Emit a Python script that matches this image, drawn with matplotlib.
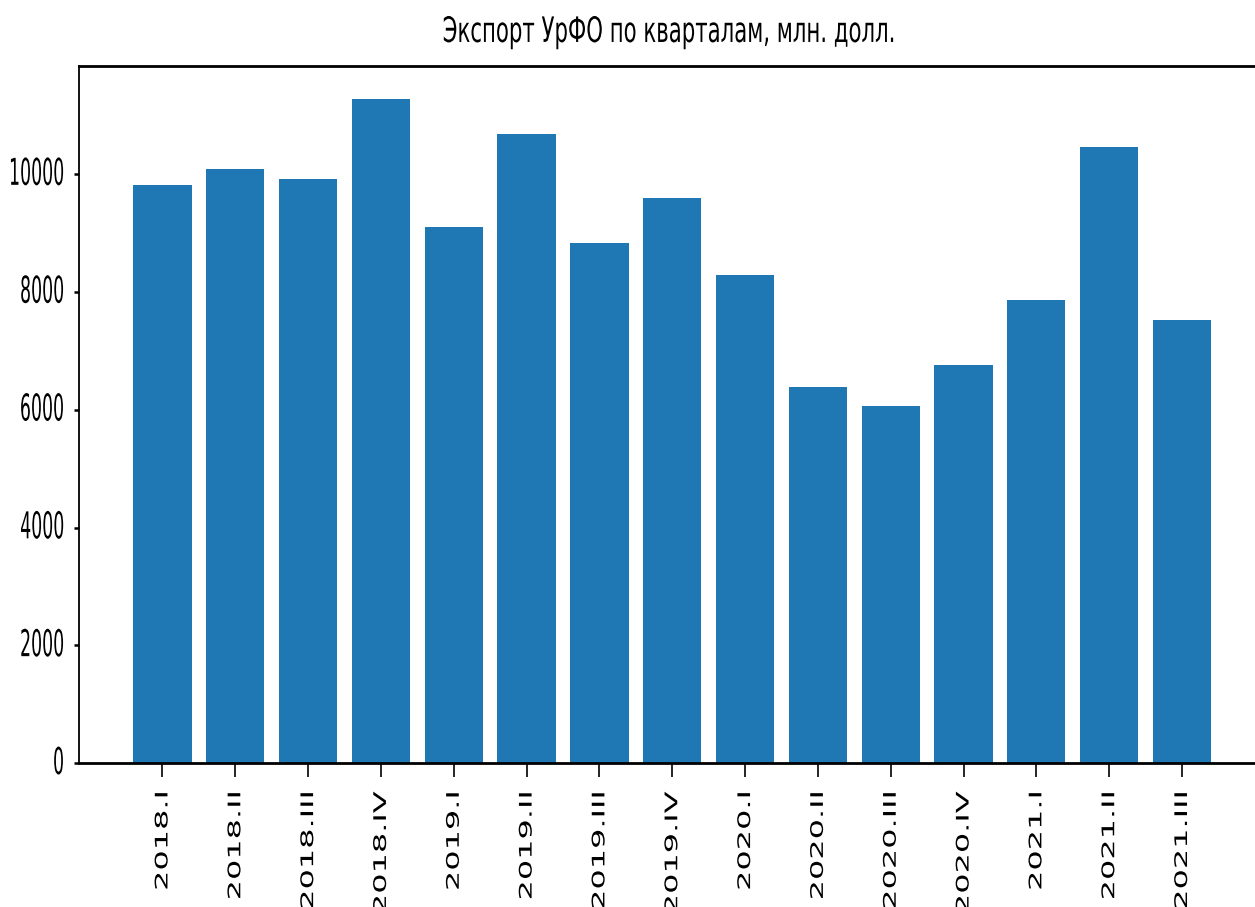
import matplotlib
matplotlib.use('Agg')
import matplotlib.pyplot as plt
from matplotlib.patheffects import AbstractPathEffect
from matplotlib.transforms import Affine2D

# квартальные данные экспорта, млн. долл.
quarters = ['2018.I', '2018.II', '2018.III', '2018.IV',
            '2019.I', '2019.II', '2019.III', '2019.IV',
            '2020.I', '2020.II', '2020.III', '2020.IV',
            '2021.I', '2021.II', '2021.III']
export = [9814, 10095, 9926, 11279, 9108, 10687, 8838, 9599,
          8291, 6389, 6063, 6768, 7856, 10462, 7530]
yticks = [0, 2000, 4000, 6000, 8000, 10000]
title = 'Экспорт УрФО по кварталам, млн. долл.'


# вытягивание текста (исходная картинка растянута по вертикали)
class Stretch(AbstractPathEffect):
    def __init__(self, sx=1.0, sy=1.0, ax='center', ay='center', dy=0.0):
        super().__init__()
        self.sx, self.sy, self.ax, self.ay, self.dy = sx, sy, ax, ay, dy

    def draw_path(self, renderer, gc, tpath, affine, rgbFace=None):
        ext = tpath.get_extents()
        px = {'left': ext.x0, 'center': (ext.x0 + ext.x1) / 2,
              'right': ext.x1, 'zero': 0}[self.ax]
        py = {'bottom': ext.y0, 'center': (ext.y0 + ext.y1) / 2,
              'top': ext.y1, 'zero': 0}[self.ay]
        t = (Affine2D().translate(-px, -py).scale(self.sx, self.sy)
             .translate(px, py + self.dy) + affine)
        renderer.draw_path(gc, tpath, t, rgbFace)


fig = plt.figure(figsize=(12.55, 9.07), dpi=100)
ax = fig.add_axes([0.0633, 0.1584, 0.9447, 0.7693])

ax.bar(range(len(quarters)), export, width=0.8, color='#1f77b4')

ax.set_xticks(range(len(quarters)))
ax.set_xticklabels(quarters, rotation=90, fontsize=12.5)
ax.set_yticks(yticks)
ax.set_yticklabels([str(v) for v in yticks], fontsize=12.5)

ax.tick_params(axis='x', length=10, width=1.2, pad=10.4)
ax.tick_params(axis='y', length=3.5, width=1.8, pad=7.6)
ax.spines['left'].set_linewidth(1.3)
ax.spines['bottom'].set_linewidth(2.0)
ax.spines['top'].set_linewidth(2.0)
ax.spines['right'].set_linewidth(1.3)

for lbl in ax.get_xticklabels():
    lbl.set_path_effects([Stretch(sx=1.84, ax='right', ay='zero')])
for lbl in ax.get_yticklabels():
    lbl.set_path_effects([Stretch(sy=2.13, ax='zero', ay='center', dy=20)])

t = ax.set_title(title, fontsize=15.3, pad=17)
t.set_x(0.4966)
t.set_path_effects([Stretch(sy=1.65, ax='zero', ay='zero')])

fig.savefig('out.png', dpi=100)
